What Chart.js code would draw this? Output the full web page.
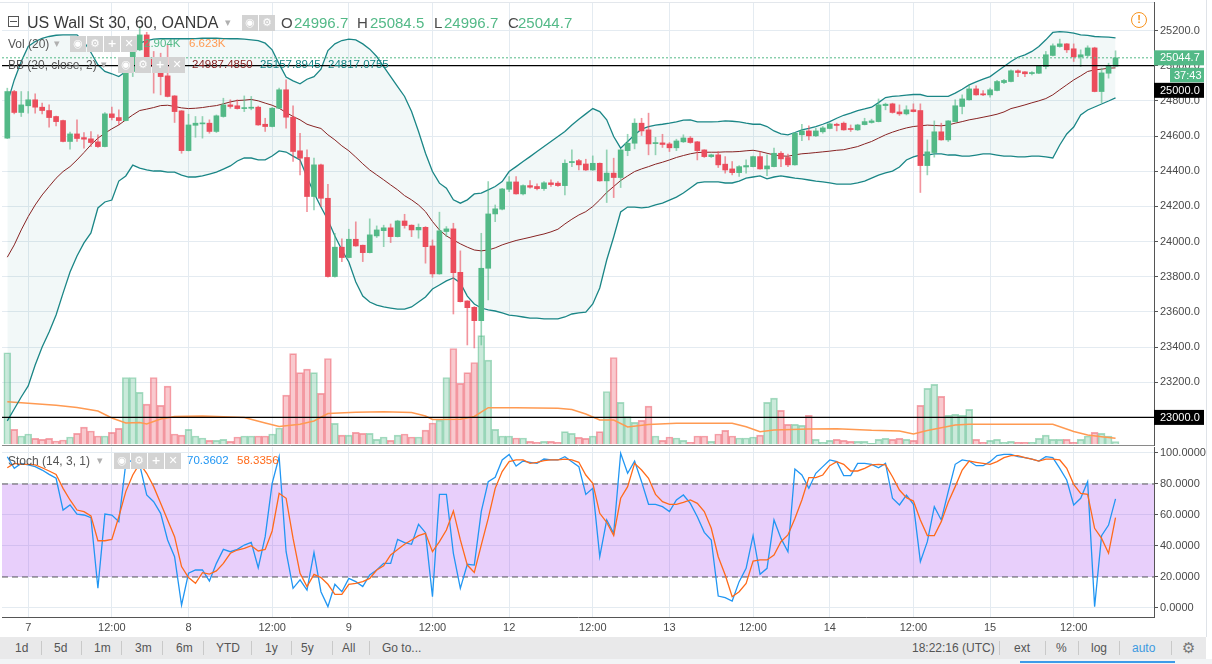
<!DOCTYPE html>
<html>
<head>
<meta charset="utf-8">
<script src="https://cdn.jsdelivr.net/npm/chart.js@4/dist/chart.umd.min.js"></script>
<style>
html,body{margin:0;padding:0;background:#fff;}
#wrap{position:relative;width:1212px;height:664px;overflow:hidden;background:#fff;font-family:'Liberation Sans',Arial,sans-serif;}
canvas{position:absolute;left:0;}
.t{position:absolute;white-space:nowrap;pointer-events:none;}
.ic{position:absolute;width:16px;height:16px;background:#d3d3d3;color:#fff;font:bold 11px 'DejaVu Sans',sans-serif;text-align:center;line-height:16px;}
.tb{position:absolute;top:637px;height:22px;line-height:22px;font-size:12px;color:#555;}
.sep{position:absolute;top:641px;width:1px;height:14px;background:#c9c9c9;}
</style>
</head>
<body>
<div id="wrap">
<canvas id="main" width="1212" height="446" style="top:0"></canvas>
<canvas id="stoch" width="1212" height="190" style="top:446px"></canvas>
</div>
<script>
// ---------------- DATA ----------------
const opens = [24588,24853,24734,24772,24806,24764,24745,24711,24688,24569,
24612,24591,24584,24567,24540,24726,24705,24688,24967,25090,
25175,25037,24999,24942,24828,24743,24517,24661,24669,24673,
24626,24711,24777,24772,24756,24758,24764,24667,24654,24758,
24863,24707,24516,24478,24256,24436,24246,23801,23968,23909,
24013,23979,23937,24032,24062,24078,24028,24117,24093,24066,
24081,23975,23816,24057,24072,23825,23662,23626,23550,23848,
24157,24184,24297,24339,24271,24318,24313,24301,24334,24332,
24318,24449,24460,24441,24407,24445,24345,24389,24364,24517,
24559,24673,24635,24557,24561,24555,24533,24567,24588,24567,
24521,24483,24493,24440,24413,24392,24424,24426,24483,24413,
24426,24502,24478,24436,24607,24629,24601,24624,24643,24667,
24673,24641,24635,24665,24677,24682,24773,24783,24737,24726,
24749,24745,24432,24506,24624,24578,24682,24768,24806,24868,
24840,24834,24859,24904,24910,24971,24965,24955,24957,24995,
25058,25109,25124,25096,25050,25058,25101,24853,24957,24996.7];
const highs = [24872,24860,24853,24853,24840,24787,24777,24713,24690,24622,
24692,24620,24625,24607,24734,24764,24749,24980,25128,25223,
25190,25081,25071,25118,24830,24745,24724,24711,24711,24692,
24720,24815,24806,24806,24828,24825,24770,24701,24762,24872,
24919,24772,24616,24521,24474,24440,24326,24047,24015,24070,
24112,23980,24129,24089,24093,24100,24121,24155,24095,24100,
24085,24009,24167,24085,24104,23947,23664,23630,24047,24341,
24208,24303,24370,24370,24322,24347,24328,24341,24351,24341,
24464,24521,24468,24468,24487,24447,24521,24474,24525,24610,
24698,24701,24730,24593,24610,24563,24582,24607,24597,24570,
24522,24497,24512,24483,24455,24432,24464,24486,24512,24493,
24531,24512,24497,24620,24667,24658,24644,24654,24673,24673,
24680,24663,24667,24701,24696,24811,24787,24787,24777,24772,
24783,24783,24578,24686,24673,24688,24806,24834,24891,24885,
24859,24872,24916,24923,24976,24976,24967,24967,25001,25081,
25124,25151,25126,25124,25090,25113,25105,24986,25014,25084.5];
const lows = [24585,24726,24711,24730,24730,24726,24650,24658,24567,24525,
24569,24531,24540,24535,24538,24692,24663,24686,24938,25085,
25020,24844,24834,24822,24677,24502,24515,24593,24588,24616,
24620,24707,24758,24753,24739,24749,24661,24626,24652,24755,
24644,24455,24379,24170,24180,24199,23797,23797,23886,23907,
23973,23886,23935,24023,23971,23994,24026,24076,24028,24019,
23877,23797,23814,24028,23588,23656,23412,23395,23412,23668,
24113,24180,24284,24269,24265,24303,24294,24290,24313,24313,
24265,24426,24407,24404,24405,24343,24222,24250,24307,24488,
24527,24603,24493,24493,24535,24512,24517,24563,24559,24464,
24478,24478,24421,24389,24379,24370,24389,24424,24411,24375,
24424,24426,24426,24434,24574,24578,24597,24616,24641,24629,
24633,24626,24631,24663,24673,24680,24749,24730,24717,24720,
24737,24279,24379,24480,24576,24569,24680,24726,24804,24832,
24830,24821,24857,24897,24908,24938,24938,24948,24955,24982,
25055,25105,25075,25024,24995,25048,24851,24790,24929,24996.7];
const closes = [24853,24734,24777,24806,24764,24745,24705,24682,24569,24612,
24586,24582,24563,24540,24726,24705,24688,24976,25090,25175,
25037,24995,24938,24825,24739,24517,24663,24673,24673,24626,
24715,24777,24768,24756,24760,24764,24663,24654,24758,24863,
24707,24512,24474,24256,24436,24246,23801,23968,23909,24013,
23975,23937,24038,24066,24078,24028,24117,24091,24066,24081,
23971,23816,24061,24072,23823,23658,23624,23550,23848,24157,
24186,24299,24339,24271,24318,24309,24301,24334,24324,24318,
24445,24455,24436,24407,24445,24345,24389,24364,24521,24559,
24673,24629,24555,24561,24552,24533,24572,24589,24563,24517,
24483,24493,24436,24407,24392,24426,24432,24483,24413,24430,
24502,24470,24436,24616,24629,24601,24629,24646,24669,24660,
24635,24637,24663,24682,24686,24777,24781,24734,24726,24749,
24739,24432,24510,24624,24578,24686,24772,24811,24868,24834,
24834,24863,24910,24916,24971,24961,24954,24961,24999,25062,
25113,25124,25090,25050,25062,25101,24853,24959,25001,25044.7];
// volume in thousands
const volumes = [106,17,9.3,11.6,6.6,5.4,6.6,3.5,4.6,8.1,
12.4,19.7,15.1,9.3,9.3,13.5,18.2,77.3,77.3,60,
46.4,77.3,44.9,67.3,11.6,10.4,17,9.3,7,4.3,
4.3,5.4,3.1,8.1,9.3,9.3,9.3,9.3,11.6,18.6,
56.8,105,83,87,83,58.8,99.4,24,10.4,10.4,
13.5,12.4,12.4,5.4,8.1,4.3,10.4,11.6,8.1,8.1,
16.2,24.4,27.8,77.3,111,70.4,83,94.7,126,97.4,
17,9.3,9.3,7,7,3.1,1.9,3.1,3.1,1.9,
14.3,12.4,7.7,6.6,9.3,14.3,61,100.5,48.3,32,
25.1,27.5,44,9.3,4.3,8.1,7,4.3,1.9,9.3,
9.3,3.1,11.6,15.9,9.3,7,7,8.1,10.4,48.3,
53.4,39,22.8,22.8,21.7,33.3,5.4,1.9,4.3,5.4,
4.3,3.1,3.1,3.1,0.8,5.4,6.6,5.4,6.6,5.4,
4.3,44.9,64.6,69.2,55.3,33.3,34.4,33.3,40.2,5.4,
1.9,4.3,5.4,1.9,3.1,1.9,1.9,1.9,6.6,10.4,
5.4,5.4,5.4,1.9,5.4,9.3,13.5,12.4,9.3,2.904];
const volMaIdx = [0,3,7,10,13,15,17,19,20,22,24,28,34,37,39,42,44,46,50,54,58,60,61,65,67,69,73,79,81,83,85,87,89,92,96,104,106,108,110,115,119,124,128,130,132,136,138,150,153,155,157,159];
const volMaVal = [49.2,47.3,45.1,42.4,38.3,30.2,24.4,25.0,23.2,29.1,32.0,32.5,30.8,24.4,20.3,22.9,26.7,35.4,36.8,37.5,36.6,32.5,28.5,28.7,32.0,42.2,42.2,41.5,40.1,34.9,27.9,27.9,19.8,22.7,24.1,24.1,20.1,14.3,16.3,17.4,17.8,15.9,15.1,11.6,15.7,22.1,22.9,22.9,14.5,10.5,8.5,6.623];
const bbUpper = [24787,24919,25024,25109,25137,25156,25166,25173,25175,25175,
25175,25137,25075,25005,24967,24954,24938,24967,25081,25128,
25143,25151,25153,25154,25153,25153,25153,25154,25156,25156,
25156,25154,25153,25153,25151,25147,25143,25128,25090,25010,
24935,24914,24897,24923,24938,24980,25086,25124,25143,25151,
25147,25124,25094,25052,24995,24938,24881,24825,24739,24626,
24502,24398,24332,24303,24237,24218,24237,24271,24275,24294,
24313,24341,24398,24426,24455,24483,24512,24540,24569,24597,
24626,24663,24696,24726,24756,24739,24692,24597,24531,24569,
24607,24639,24654,24662,24667,24673,24680,24690,24692,24680,
24680,24680,24682,24686,24684,24680,24673,24667,24667,24654,
24629,24612,24607,24620,24635,24644,24654,24667,24682,24701,
24718,24730,24745,24754,24764,24790,24819,24826,24828,24832,
24836,24836,24826,24826,24826,24826,24844,24866,24891,24908,
24923,24938,24967,24995,25024,25048,25062,25081,25109,25147,
25189,25194,25191,25185,25175,25172,25166,25164,25162,25157.9];
const bbBasis = [23911,23981,24066,24142,24208,24265,24313,24360,24398,24426,
24464,24506,24550,24588,24616,24641,24663,24692,24720,24745,
24753,24762,24773,24775,24768,24760,24756,24758,24762,24768,
24773,24783,24794,24802,24804,24808,24800,24787,24775,24758,
24734,24711,24692,24667,24654,24643,24607,24578,24544,24516,
24480,24442,24407,24379,24351,24322,24294,24261,24237,24208,
24170,24114,24066,24032,24009,23987,23968,23952,23947,23952,
23964,23981,23994,24006,24015,24024,24034,24043,24055,24070,
24100,24127,24151,24170,24199,24237,24279,24313,24347,24373,
24398,24413,24426,24440,24451,24464,24478,24489,24499,24506,
24508,24508,24508,24510,24510,24512,24516,24519,24512,24502,
24493,24487,24485,24493,24499,24502,24506,24510,24514,24519,
24522,24531,24540,24555,24569,24588,24607,24622,24635,24646,
24654,24658,24662,24660,24658,24663,24673,24682,24692,24699,
24707,24715,24724,24737,24756,24766,24777,24789,24800,24813,
24834,24863,24891,24919,24942,24967,24976,24980,24986,24987.5];
const bbLower = [22980,23048,23116,23179,23298,23400,23486,23582,23707,23827,
23918,23992,24049,24191,24225,24236,24344,24373,24435,24418,
24407,24401,24401,24395,24395,24378,24367,24367,24373,24384,
24395,24412,24430,24458,24475,24475,24464,24464,24486,24515,
24509,24486,24464,24367,24276,24196,24123,24032,23952,23884,
23770,23690,23656,23639,23628,23622,23616,23616,23628,23656,
23685,23730,23753,23776,23793,23764,23690,23645,23622,23611,
23605,23594,23582,23577,23571,23565,23565,23560,23560,23560,
23571,23588,23594,23599,23645,23736,23895,24026,24168,24196,
24196,24191,24196,24208,24219,24236,24253,24276,24304,24333,
24339,24339,24339,24333,24333,24344,24361,24367,24373,24356,
24367,24373,24367,24361,24356,24350,24344,24339,24333,24327,
24327,24327,24333,24344,24361,24378,24390,24401,24424,24464,
24481,24492,24492,24498,24498,24492,24492,24486,24486,24492,
24498,24498,24492,24486,24486,24481,24481,24486,24486,24481,
24475,24549,24612,24651,24720,24748,24765,24782,24799,24817.1];
const stochK = [97.6,90.1,93.3,92.3,91.2,89.0,86.2,83.7,63.2,66.5,
60.6,60.0,58.3,12.7,60.6,60.0,55.7,93.3,95.5,92.3,
72.9,68.6,61.1,43.9,33.1,1.9,22.4,24.5,24.5,17.4,
28.8,37.8,36.3,37.8,40.6,42.4,26.0,46.0,80.4,97.6,
36.3,12.7,18.1,11.6,35.9,10.5,0.9,15.3,10.5,19.1,
17.0,13.8,21.3,24.5,28.8,28.8,44.3,42.2,41.1,54.0,
48.6,7.3,73.3,73.3,35.3,12.7,28.2,27.7,62.2,81.5,
84.3,95.5,99.1,91.6,94.8,94.0,93.3,96.1,95.5,95.5,
97.6,94.4,91.2,73.3,77.2,33.1,56.8,48.2,99.8,86.9,
94.8,81.5,66.9,66.9,65.4,62.2,69.7,72.9,67.5,58.9,
48.8,43.9,7.7,6.7,4.5,17.0,25.6,46.7,21.7,25.6,
56.8,44.9,36.3,89.7,85.8,77.2,86.9,91.2,95.5,94.4,
85.4,85.4,93.3,93.3,92.7,90.5,93.3,70.8,66.5,72.9,
66.9,29.9,42.8,65.4,56.8,75.1,92.7,95.5,94.8,91.8,
91.8,94.4,98.3,99.1,99.1,97.6,97.0,96.1,94.8,97.6,
97.0,90.1,82.6,66.5,70.8,81.5,0.9,46.7,53.5,70.3602];
const stochD = [90.5,93.3,92.7,92.7,92.3,90.5,88.4,86.2,77.2,69.7,
63.2,62.2,59.4,43.4,43.4,44.3,58.9,75.1,85.8,93.3,
86.9,78.3,67.5,56.8,46.0,26.7,19.6,15.9,22.8,21.9,
23.9,28.8,35.3,37.4,38.5,40.2,36.8,37.8,49.7,74.0,
70.8,44.9,22.4,13.8,21.7,19.6,15.3,8.8,8.8,15.3,
15.9,17.0,19.1,24.5,27.3,34.2,37.8,41.1,43.9,46.7,
48.2,36.3,42.8,50.3,62.6,43.9,27.7,23.0,40.6,57.8,
77.2,88.0,94.4,95.5,95.5,93.3,94.0,95.1,95.5,95.5,
96.1,95.5,94.0,85.8,80.4,61.1,55.3,46.7,70.8,78.3,
93.3,89.0,83.7,73.3,68.6,66.9,66.9,68.2,69.7,67.5,
62.2,51.4,33.1,21.3,7.3,10.5,15.9,30.3,31.0,31.0,
34.2,42.8,47.1,57.8,69.7,84.1,84.1,85.8,91.8,94.4,
92.7,88.4,88.4,90.1,92.3,92.7,92.3,84.7,76.1,71.2,
69.0,56.8,46.7,46.7,55.7,68.2,78.3,89.0,94.8,94.0,
93.3,92.7,94.4,97.0,98.3,98.3,97.0,96.1,94.8,96.1,
96.1,95.5,90.1,79.8,74.0,73.3,51.4,44.9,35.3,58.3356];
const timeTickIdx = [3,15,26,38,49,61,72,84,95,107,118,130,141,153];
const timeTickText = ['7','12:00','8','12:00','9','12:00','12','12:00','13','12:00','14','12:00','15','12:00'];
const priceTicks = [23000,23200,23400,23600,23800,24000,24200,24400,24600,24800,25000,25200];
const stochTicks = [0,20,40,60,80,100];
const stochBands = [80,20];
const hLineLevels = [25000,23000];
const countdownText = '37:43';
const titleText = 'US Wall St 30, 60, OANDA';
const legendVol = ['Vol (20)','2.904K','6.623K'];
const legendBB = ['BB (20, close, 2)','24987.4850','25157.8945','24817.0755'];
const legendStoch = ['Stoch (14, 3, 1)','70.3602','58.3356'];

// ---------------- STYLE ----------------
const GREEN='#53b987', RED='#eb4d5c', GRID='#e4ebf1';
const FONT="'Liberation Sans', Arial, sans-serif";
Chart.defaults.font.family = FONT;
const xMin=-0.76, xMax=164.52;
const up = i => closes[i] >= opens[i];
const lastClose = closes[closes.length-1];

const labelPlugin = {
  id:'pricelabels',
  afterDraw(chart){
    const ctx=chart.ctx, ys=chart.scales.y, a=chart.chartArea;
    const R=a.right;
    function box(x0,x1,top,h,bg,text,tx){
      ctx.save();ctx.fillStyle=bg;ctx.fillRect(x0,top,x1-x0,h);
      ctx.fillStyle='#fff';ctx.font='11px '+FONT;ctx.textBaseline='middle';ctx.textAlign='left';
      ctx.fillText(text,tx,top+h/2+0.5);ctx.restore();
    }
    const yc=ys.getPixelForValue(lastClose);
    box(R,R+50,yc-7.5,15,GREEN,lastClose.toFixed(1),R+6);
    box(R+16,R+50,yc+10,14.5,GREEN,countdownText,R+20);
    box(R,R+50,yc+25,15,'#000',hLineLevels[0].toFixed(1),R+6);
    const y2=ys.getPixelForValue(hLineLevels[1]);
    box(R,R+50,y2-7.5,15,'#000',hLineLevels[1].toFixed(1),R+6);
  }
};

const noPadX = s=>{s.paddingLeft=0;s.paddingRight=0;};
const noPadY = s=>{s.paddingTop=0;s.paddingBottom=0;};
const hline = (v,color,dash,w)=>({type:'line',data:[{x:xMin,y:v},{x:xMax,y:v}],borderColor:color,borderDash:dash,borderWidth:w,pointRadius:0,fill:false,order:0});

new Chart(document.getElementById('main'),{
  type:'bar',
  data:{datasets:[
    {type:'bar',yAxisID:'yVol',data:volumes.map((v,i)=>({x:i,y:v})),
     backgroundColor:c=>up(c.dataIndex)?'rgba(83,185,135,0.3)':'rgba(235,77,92,0.3)',
     borderColor:c=>up(c.dataIndex)?'rgba(83,185,135,0.5)':'rgba(235,77,92,0.5)',
     borderWidth:1,barThickness:6.97,grouped:false,order:10},
    {type:'line',yAxisID:'yVol',data:volMaIdx.map((x,k)=>({x:x,y:volMaVal[k]})),borderColor:'#ff9a52',borderWidth:1.5,pointRadius:0,fill:false,order:9},
    {type:'line',data:bbUpper.map((v,i)=>({x:i,y:v})),borderColor:'#1a8686',borderWidth:1.3,pointRadius:0,fill:'+1',backgroundColor:'rgba(19,132,132,0.055)',order:8},
    {type:'line',data:bbLower.map((v,i)=>({x:i,y:v})),borderColor:'#1a8686',borderWidth:1.3,pointRadius:0,fill:false,order:7},
    {type:'line',data:bbBasis.map((v,i)=>({x:i,y:v})),borderColor:'#872323',borderWidth:1,pointRadius:0,fill:false,order:6},
    {type:'bar',data:highs.map((h,i)=>({x:i,y:[lows[i],h]})),
     backgroundColor:c=>up(c.dataIndex)?'rgba(83,185,135,0.6)':'rgba(235,77,92,0.6)',barThickness:1,grouped:false,order:2},
    {type:'bar',data:opens.map((o,i)=>({x:i,y:[o,closes[i]]})),
     backgroundColor:c=>up(c.dataIndex)?GREEN:RED,barThickness:5,minBarLength:1,grouped:false,order:1},
    hline(lastClose,GREEN,[2,2],1),
    hline(hLineLevels[0],'#000',[],1.2),
    hline(hLineLevels[1],'#000',[],1.2)
  ]},
  options:{
    responsive:false,animation:false,events:[],
    layout:{padding:{left:2,top:2,right:0,bottom:1}},
    plugins:{legend:{display:false},tooltip:{enabled:false}},
    scales:{
      x:{type:'linear',offset:false,min:xMin,max:xMax,
         afterBuildTicks:s=>{s.ticks=timeTickIdx.map(v=>({value:v}));},
         ticks:{display:false},grid:{color:GRID,drawTicks:false,offset:false},
         border:{display:true,color:'#8a8a8a'},afterFit:s=>{s.height=0;noPadX(s);}},
      y:{position:'right',min:22843.1,max:25362.1,
         afterBuildTicks:s=>{s.ticks=priceTicks.map(v=>({value:v}));},
         ticks:{callback:v=>Number(v).toFixed(1),color:'#4a4a4a',font:{size:11},padding:2},
         grid:{color:GRID,tickColor:'#555',tickLength:4},
         border:{display:true,color:'#555'},afterFit:s=>{s.width=58;noPadY(s);}},
      yVol:{display:false,min:-1.16,max:513.6,afterFit:s=>{noPadY(s);}}
    }
  },
  plugins:[labelPlugin]
});

new Chart(document.getElementById('stoch'),{
  type:'line',
  data:{datasets:[
    {data:[{x:xMin,y:stochBands[0]},{x:xMax,y:stochBands[0]}],borderColor:'#5a5a5a',borderDash:[6,4],borderWidth:1,pointRadius:0,fill:'+1',backgroundColor:'rgba(150,37,237,0.22)',order:5},
    {data:[{x:xMin,y:stochBands[1]},{x:xMax,y:stochBands[1]}],borderColor:'#5a5a5a',borderDash:[6,4],borderWidth:1,pointRadius:0,fill:false,order:4},
    {data:stochK.map((v,i)=>({x:i,y:v})),borderColor:'#2196f3',borderWidth:1.3,pointRadius:0,fill:false,order:2},
    {data:stochD.map((v,i)=>({x:i,y:v})),borderColor:'#ff6a1a',borderWidth:1.3,pointRadius:0,fill:false,order:1}
  ]},
  options:{
    responsive:false,animation:false,events:[],
    layout:{padding:{left:2,top:1,right:0,bottom:0}},
    plugins:{legend:{display:false},tooltip:{enabled:false}},
    scales:{
      x:{type:'linear',offset:false,min:xMin,max:xMax,
         afterBuildTicks:s=>{s.ticks=timeTickIdx.map(v=>({value:v}));},
         ticks:{callback:v=>{const k=timeTickIdx.indexOf(v);return k>=0?timeTickText[k]:'';},
                color:'#4a4a4a',font:{size:11},padding:4,autoSkip:false,maxRotation:0,minRotation:0},
         grid:{color:GRID,drawTicks:false},
         border:{display:true,color:'#555'},afterFit:s=>{s.height=19;noPadX(s);}},
      y:{position:'right',min:-5.81,max:103.87,
         afterBuildTicks:s=>{s.ticks=stochTicks.map(v=>({value:v}));},
         ticks:{callback:v=>Number(v).toFixed(4),color:'#4a4a4a',font:{size:11},padding:2},
         grid:{color:GRID,tickColor:'#555',tickLength:4},
         border:{display:true,color:'#555'},afterFit:s=>{s.width=58;noPadY(s);}}
    }
  }
});

// ---------------- OVERLAY TEXT ----------------
const wrap=document.getElementById('wrap');
function el(cls,x,y,html,style){const d=document.createElement('div');d.className=cls;d.style.left=x+'px';d.style.top=y+'px';d.innerHTML=html;if(style)d.style.cssText+=style;wrap.appendChild(d);return d;}
function txt(x,yc,s,size,color,extra){return el('t',x,yc-size*0.6,s,'font-size:'+size+'px;line-height:'+(size*1.2)+'px;color:'+color+';'+(extra||''));}
function icons(x,top,glyphs){glyphs.forEach((g,k)=>el('ic',x+k*17,top,g));}
function tri(x,yc){txt(x,yc,'&#9662;',11,'#b0b0b0');}

// title row
el('t',8,16,'','width:9px;height:9px;border:1px solid #555;');
el('t',10,21,'','width:7px;height:1px;background:#555;');
txt(27,22.5,titleText,16,'#3a3a3a');
tri(225,22.5);
icons(242,15,['&#9673;','&#9881;']);
[['O',281,'24996.7',294],['H',357,'25084.5',370],['L',434,'24996.7',444],['C',508,'25044.7',518]].forEach(r=>{
  txt(r[1],22.5,r[0],15,'#4a4a4a');txt(r[3],22.5,r[2],15,GREEN);
});
// vol row
txt(8,44,legendVol[0],12,'#555');tri(54,44);
icons(70,36,['&#9673;','&#9881;','+','&#10005;']);
txt(144,44,legendVol[1],11.5,GREEN);txt(189,44,legendVol[2],11.5,'#ff9a52');
// BB row
txt(8,65,legendBB[0],12,'#555');tri(101,65);
icons(118,57,['&#9673;','&#9881;','+','&#10005;']);
txt(192,65,legendBB[1],11.5,'#872323');txt(260,65,legendBB[2],11.5,'#138484');txt(328,65,legendBB[3],11.5,'#138484');
// stoch row
txt(8,461,legendStoch[0],12,'#555');tri(97,461);
icons(114,453,['&#9673;','&#9881;','+','&#10005;']);
txt(187,461,legendStoch[1],11.5,'#2196f3');txt(237,461,legendStoch[2],11.5,'#ff6a1a');
// warning icon
el('t',1131,12,'!','width:16px;height:16px;border:1.5px solid #f7931e;border-radius:50%;box-sizing:border-box;color:#f7931e;font:bold 11px '+FONT+';text-align:center;line-height:13px;');
// borders
el('t',0,2,'','width:1154px;height:1px;background:#e3e7ec;');
el('t',1206,0,'','width:1px;height:637px;background:#dfe3e8;');

// bottom toolbar
el('t',0,637,'','width:1206px;height:22px;background:#e9e9ea;');
el('t',0,659,'','width:1212px;height:5px;background:#f2f4f6;');
el('t',1020,661,'','width:155px;height:2px;background:#3d9be9;');
const leftItems=[['1d',15],['5d',54],['1m',94],['3m',135],['6m',176],['YTD',216],['1y',265],['5y',301],['All',342],['Go to...',382]];
leftItems.forEach(t=>el('tb',t[1],0,t[0],'top:637px;'));
[41,81,121,162,203,251,291,332,369].forEach(x=>el('sep',x,641,''));
const rightItems=[['18:22:16 (UTC)',912,'#555'],['ext',1014,'#555'],['%',1056,'#555'],['log',1091,'#555'],['auto',1132,'#3c9ae0']];
rightItems.forEach(t=>el('tb',t[1],637,t[0],'color:'+t[2]+';'));
[999,1045,1078,1119,1171].forEach(x=>el('sep',x,641,''));
el('tb',1182,637,'&#9881;','font-size:15px;color:#777;font-family:DejaVu Sans,sans-serif;');
</script>
</body>
</html>
